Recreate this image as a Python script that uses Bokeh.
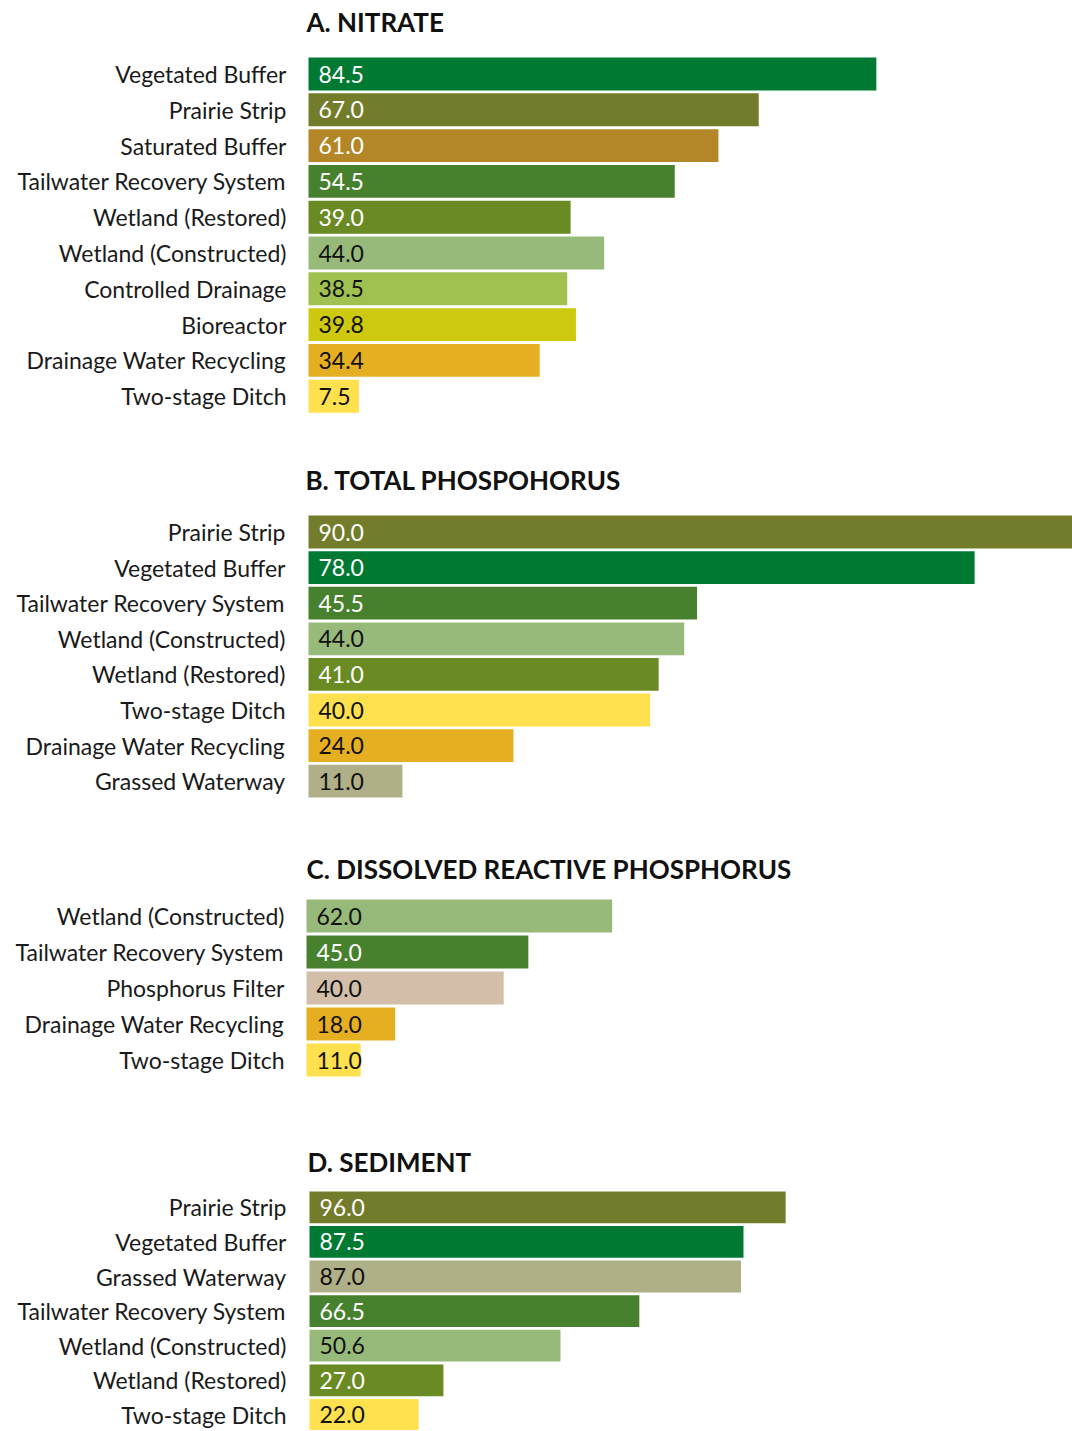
from bokeh.plotting import figure
from bokeh.layouts import column
from bokeh.models import Range1d, FixedTicker, ColumnDataSource
from bokeh.embed import file_html
from bokeh.resources import INLINE
from bokeh.core.properties import value

# ---------------- data ----------------
nitrate_title = "A. NITRATE"
nitrate_cats = ["Vegetated Buffer", "Prairie Strip", "Saturated Buffer",
                "Tailwater Recovery System", "Wetland (Restored)",
                "Wetland (Constructed)", "Controlled Drainage", "Bioreactor",
                "Drainage Water Recycling", "Two-stage Ditch"]
nitrate_vals = [84.5, 67.0, 61.0, 54.5, 39.0, 44.0, 38.5, 39.8, 34.4, 7.5]

tp_title = "B. TOTAL PHOSPOHORUS"
tp_cats = ["Prairie Strip", "Vegetated Buffer", "Tailwater Recovery System",
           "Wetland (Constructed)", "Wetland (Restored)", "Two-stage Ditch",
           "Drainage Water Recycling", "Grassed Waterway"]
tp_vals = [90.0, 78.0, 45.5, 44.0, 41.0, 40.0, 24.0, 11.0]

drp_title = "C. DISSOLVED REACTIVE PHOSPHORUS"
drp_cats = ["Wetland (Constructed)", "Tailwater Recovery System",
            "Phosphorus Filter", "Drainage Water Recycling", "Two-stage Ditch"]
drp_vals = [62.0, 45.0, 40.0, 18.0, 11.0]

sed_title = "D. SEDIMENT"
sed_cats = ["Prairie Strip", "Vegetated Buffer", "Grassed Waterway",
            "Tailwater Recovery System", "Wetland (Constructed)",
            "Wetland (Restored)", "Two-stage Ditch"]
sed_vals = [96.0, 87.5, 87.0, 66.5, 50.6, 27.0, 22.0]

# ---------------- styles ----------------
COLORS = {
    "Vegetated Buffer": "#007A33",
    "Prairie Strip": "#737C2B",
    "Saturated Buffer": "#B38627",
    "Tailwater Recovery System": "#48812E",
    "Wetland (Restored)": "#6A8A23",
    "Wetland (Constructed)": "#97BA7B",
    "Controlled Drainage": "#A0C050",
    "Bioreactor": "#CDC90E",
    "Drainage Water Recycling": "#E6AF21",
    "Two-stage Ditch": "#FFE04E",
    "Grassed Waterway": "#AFAF88",
    "Phosphorus Filter": "#D2BEA9",
}
WHITE_TEXT = {"Vegetated Buffer", "Prairie Strip", "Saturated Buffer",
              "Tailwater Recovery System", "Wetland (Restored)"}

FONT = "Lato"
PAGE_W = 1072
FRAME_LEFT = 303

# per-panel layout (page pixels): figure top & height, top of first row,
# row pitch, bar start x, px per unit, title anchor y, title x, label right edge
LAYOUT = [
    dict(top=0,    h=440, rows_top=55.6,   row=35.8, bar_x=308, ppu=6.72,
         title_y=21,   title_x=306, lab_r=286),
    dict(top=440,  h=390, rows_top=513.7,  row=35.6, bar_x=308, ppu=8.54,
         title_y=479,  title_x=305, lab_r=285),
    dict(top=830,  h=290, rows_top=897.5,  row=36.0, bar_x=306, ppu=4.93,
         title_y=868,  title_x=306, lab_r=284),
    dict(top=1120, h=310, rows_top=1189.5, row=34.6, bar_x=309, ppu=4.96,
         title_y=1161, title_x=307, lab_r=286),
]


def panel(title, cats, vals, L):
    n = len(cats)
    row = L["row"]
    y_top = -0.5 - (L["rows_top"] - L["top"]) / row
    y_bot = -0.5 + (L["top"] + L["h"] - L["rows_top"]) / row
    x_start = -(L["bar_x"] - FRAME_LEFT) / L["ppu"]
    x_end = (PAGE_W - L["bar_x"]) / L["ppu"]
    p = figure(width=PAGE_W, height=L["h"], output_backend="svg",
               toolbar_location=None, x_axis_location=None,
               x_range=Range1d(x_start, x_end),
               y_range=Range1d(y_bot, y_top),
               min_border_left=FRAME_LEFT, min_border_right=0,
               min_border_top=0, min_border_bottom=0)
    p.outline_line_color = None
    p.grid.visible = False
    p.background_fill_color = "white"
    p.border_fill_color = "white"

    idx = list(range(n))
    src = ColumnDataSource(dict(
        y=idx, v=vals, zero=[0] * n,
        color=[COLORS[c] for c in cats],
        label=["%.1f" % v for v in vals],
        tcolor=["white" if c in WHITE_TEXT else "#111111" for c in cats],
    ))
    p.hbar(y="y", left="zero", right="v", height=0.92, fill_color="color",
           line_color=None, source=src)
    p.text(x="zero", y="y", text="label", x_offset=10, text_baseline="middle",
           text_align="left", text_color="tcolor", text_font=value(FONT),
           text_font_size="23px", source=src)

    # panel heading, just above the first row
    tsrc = ColumnDataSource(dict(x=[0], y=[-0.5 - (L["rows_top"] - L["title_y"]) / row],
                                 t=[title]))
    p.text(x="x", y="y", text="t", x_offset=L["title_x"] - L["bar_x"],
           text_baseline="alphabetic", text_align="left",
           text_font=value(FONT), text_font_size="26px",
           text_font_style="bold", text_color="#111111", source=tsrc)

    ax = p.yaxis[0]
    ax.ticker = FixedTicker(ticks=idx)
    ax.major_label_overrides = {i: c for i, c in enumerate(cats)}
    ax.axis_line_color = None
    ax.major_tick_line_color = None
    ax.minor_tick_line_color = None
    ax.major_tick_in = 0
    ax.major_tick_out = 0
    ax.minor_tick_out = 0
    ax.major_label_standoff = FRAME_LEFT - L["lab_r"]
    ax.major_label_text_font = FONT
    ax.major_label_text_font_size = "23px"
    ax.major_label_text_color = "#1a1a1a"
    return p


panels = [
    panel(nitrate_title, nitrate_cats, nitrate_vals, LAYOUT[0]),
    panel(tp_title, tp_cats, tp_vals, LAYOUT[1]),
    panel(drp_title, drp_cats, drp_vals, LAYOUT[2]),
    panel(sed_title, sed_cats, sed_vals, LAYOUT[3]),
]

layout = column(*panels, spacing=0)
open("out.html", "w").write(file_html(layout, INLINE))
